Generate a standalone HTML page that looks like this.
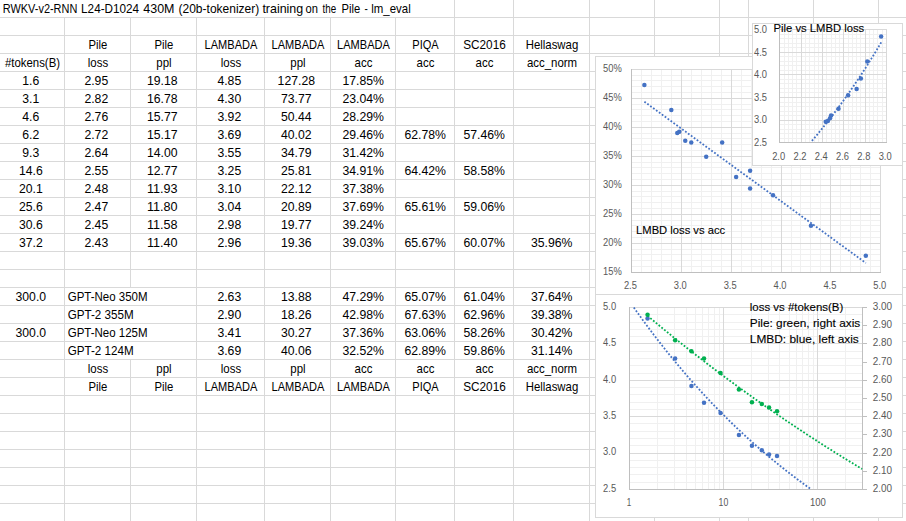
<!DOCTYPE html>
<html><head><meta charset="utf-8"><style>
html,body{margin:0;padding:0;background:#fff;overflow:hidden}
svg{display:block}
text{font-family:"Liberation Sans",sans-serif}
</style></head><body>
<svg width="906" height="521" viewBox="0 0 906 521">
<rect x="0" y="0" width="906" height="521" fill="#fff"/>
<rect x="64" y="17" width="1" height="504" fill="#d9d9d9"/>
<rect x="130" y="17" width="1" height="270" fill="#d9d9d9"/>
<rect x="130" y="359" width="1" height="162" fill="#d9d9d9"/>
<rect x="196" y="17" width="1" height="504" fill="#d9d9d9"/>
<rect x="264" y="17" width="1" height="504" fill="#d9d9d9"/>
<rect x="330" y="17" width="1" height="504" fill="#d9d9d9"/>
<rect x="395" y="17" width="1" height="504" fill="#d9d9d9"/>
<rect x="454" y="0" width="1" height="521" fill="#d9d9d9"/>
<rect x="513" y="0" width="1" height="521" fill="#d9d9d9"/>
<rect x="589" y="0" width="1" height="521" fill="#d9d9d9"/>
<rect x="654" y="0" width="1" height="521" fill="#d9d9d9"/>
<rect x="719" y="0" width="1" height="521" fill="#d9d9d9"/>
<rect x="748" y="0" width="1" height="521" fill="#d9d9d9"/>
<rect x="813" y="0" width="1" height="521" fill="#d9d9d9"/>
<rect x="878" y="0" width="1" height="521" fill="#d9d9d9"/>
<rect x="0" y="17" width="906" height="1" fill="#d9d9d9"/>
<rect x="0" y="35" width="906" height="1" fill="#d9d9d9"/>
<rect x="0" y="53" width="906" height="1" fill="#d9d9d9"/>
<rect x="0" y="71" width="906" height="1" fill="#d9d9d9"/>
<rect x="0" y="89" width="906" height="1" fill="#d9d9d9"/>
<rect x="0" y="107" width="906" height="1" fill="#d9d9d9"/>
<rect x="0" y="125" width="906" height="1" fill="#d9d9d9"/>
<rect x="0" y="143" width="906" height="1" fill="#d9d9d9"/>
<rect x="0" y="161" width="906" height="1" fill="#d9d9d9"/>
<rect x="0" y="179" width="906" height="1" fill="#d9d9d9"/>
<rect x="0" y="197" width="906" height="1" fill="#d9d9d9"/>
<rect x="0" y="215" width="906" height="1" fill="#d9d9d9"/>
<rect x="0" y="233" width="906" height="1" fill="#d9d9d9"/>
<rect x="0" y="251" width="906" height="1" fill="#d9d9d9"/>
<rect x="0" y="269" width="906" height="1" fill="#d9d9d9"/>
<rect x="0" y="287" width="906" height="1" fill="#d9d9d9"/>
<rect x="0" y="305" width="906" height="1" fill="#d9d9d9"/>
<rect x="0" y="323" width="906" height="1" fill="#d9d9d9"/>
<rect x="0" y="341" width="906" height="1" fill="#d9d9d9"/>
<rect x="0" y="359" width="906" height="1" fill="#d9d9d9"/>
<rect x="0" y="377" width="906" height="1" fill="#d9d9d9"/>
<rect x="0" y="395" width="906" height="1" fill="#d9d9d9"/>
<rect x="0" y="413" width="906" height="1" fill="#d9d9d9"/>
<rect x="0" y="431" width="906" height="1" fill="#d9d9d9"/>
<rect x="0" y="449" width="906" height="1" fill="#d9d9d9"/>
<rect x="0" y="467" width="906" height="1" fill="#d9d9d9"/>
<rect x="0" y="485" width="906" height="1" fill="#d9d9d9"/>
<rect x="0" y="503" width="906" height="1" fill="#d9d9d9"/>
<rect x="0" y="521" width="906" height="1" fill="#d9d9d9"/>
<text x="2.80" y="13.00" font-size="13" fill="#000" textLength="74.51" lengthAdjust="spacingAndGlyphs">RWKV-v2-RNN</text>
<text x="81.10" y="13.00" font-size="13" fill="#000" textLength="58.00" lengthAdjust="spacingAndGlyphs">L24-D1024</text>
<text x="143.30" y="13.00" font-size="13" fill="#000" textLength="31.21" lengthAdjust="spacingAndGlyphs">430M</text>
<text x="178.50" y="13.00" font-size="13" fill="#000" textLength="80.80" lengthAdjust="spacingAndGlyphs">(20b-tokenizer)</text>
<text x="262.40" y="13.00" font-size="13" fill="#000" textLength="40.80" lengthAdjust="spacingAndGlyphs">training</text>
<text x="305.60" y="13.00" font-size="13" fill="#000" textLength="12.40" lengthAdjust="spacingAndGlyphs">on</text>
<text x="322.60" y="13.00" font-size="13" fill="#000" textLength="13.60" lengthAdjust="spacingAndGlyphs">the</text>
<text x="341.50" y="13.00" font-size="13" fill="#000" textLength="18.69" lengthAdjust="spacingAndGlyphs">Pile</text>
<text x="364.40" y="13.00" font-size="13" fill="#000" textLength="3.30" lengthAdjust="spacingAndGlyphs">-</text>
<text x="371.30" y="13.00" font-size="13" fill="#000" textLength="39.40" lengthAdjust="spacingAndGlyphs">lm_eval</text>
<text x="98.00" y="49.00" font-size="13" text-anchor="middle" fill="#000" textLength="18.82" lengthAdjust="spacingAndGlyphs">Pile</text>
<text x="164.00" y="49.00" font-size="13" text-anchor="middle" fill="#000" textLength="18.82" lengthAdjust="spacingAndGlyphs">Pile</text>
<text x="231.00" y="49.00" font-size="13" text-anchor="middle" fill="#000" textLength="52.81" lengthAdjust="spacingAndGlyphs">LAMBADA</text>
<text x="298.00" y="49.00" font-size="13" text-anchor="middle" fill="#000" textLength="52.81" lengthAdjust="spacingAndGlyphs">LAMBADA</text>
<text x="363.50" y="49.00" font-size="13" text-anchor="middle" fill="#000" textLength="52.81" lengthAdjust="spacingAndGlyphs">LAMBADA</text>
<text x="425.50" y="49.00" font-size="13" text-anchor="middle" fill="#000" textLength="26.41" lengthAdjust="spacingAndGlyphs">PIQA</text>
<text x="484.50" y="49.00" font-size="13" text-anchor="middle" fill="#000" textLength="42.54" lengthAdjust="spacingAndGlyphs">SC2016</text>
<text x="552.00" y="49.00" font-size="13" text-anchor="middle" fill="#000" textLength="52.49" lengthAdjust="spacingAndGlyphs">Hellaswag</text>
<text x="32.50" y="67.00" font-size="13" text-anchor="middle" fill="#000" textLength="55.06" lengthAdjust="spacingAndGlyphs">#tokens(B)</text>
<text x="98.00" y="67.00" font-size="13" text-anchor="middle" fill="#000" textLength="20.34" lengthAdjust="spacingAndGlyphs">loss</text>
<text x="164.00" y="67.00" font-size="13" text-anchor="middle" fill="#000" textLength="15.27" lengthAdjust="spacingAndGlyphs">ppl</text>
<text x="231.00" y="67.00" font-size="13" text-anchor="middle" fill="#000" textLength="20.34" lengthAdjust="spacingAndGlyphs">loss</text>
<text x="298.00" y="67.00" font-size="13" text-anchor="middle" fill="#000" textLength="15.27" lengthAdjust="spacingAndGlyphs">ppl</text>
<text x="363.50" y="67.00" font-size="13" text-anchor="middle" fill="#000" textLength="17.80" lengthAdjust="spacingAndGlyphs">acc</text>
<text x="425.50" y="67.00" font-size="13" text-anchor="middle" fill="#000" textLength="17.80" lengthAdjust="spacingAndGlyphs">acc</text>
<text x="484.50" y="67.00" font-size="13" text-anchor="middle" fill="#000" textLength="17.80" lengthAdjust="spacingAndGlyphs">acc</text>
<text x="552.00" y="67.00" font-size="13" text-anchor="middle" fill="#000" textLength="50.23" lengthAdjust="spacingAndGlyphs">acc_norm</text>
<text x="30.80" y="85.00" font-size="13" text-anchor="middle" fill="#000" textLength="16.99" lengthAdjust="spacingAndGlyphs">1.6</text>
<text x="96.30" y="85.00" font-size="13" text-anchor="middle" fill="#000" textLength="23.78" lengthAdjust="spacingAndGlyphs">2.95</text>
<text x="162.30" y="85.00" font-size="13" text-anchor="middle" fill="#000" textLength="30.58" lengthAdjust="spacingAndGlyphs">19.18</text>
<text x="229.30" y="85.00" font-size="13" text-anchor="middle" fill="#000" textLength="23.78" lengthAdjust="spacingAndGlyphs">4.85</text>
<text x="296.30" y="85.00" font-size="13" text-anchor="middle" fill="#000" textLength="37.38" lengthAdjust="spacingAndGlyphs">127.28</text>
<text x="363.20" y="85.00" font-size="13" text-anchor="middle" fill="#000" textLength="41.56" lengthAdjust="spacingAndGlyphs">17.85%</text>
<text x="30.80" y="103.00" font-size="13" text-anchor="middle" fill="#000" textLength="16.99" lengthAdjust="spacingAndGlyphs">3.1</text>
<text x="96.30" y="103.00" font-size="13" text-anchor="middle" fill="#000" textLength="23.78" lengthAdjust="spacingAndGlyphs">2.82</text>
<text x="162.30" y="103.00" font-size="13" text-anchor="middle" fill="#000" textLength="30.58" lengthAdjust="spacingAndGlyphs">16.78</text>
<text x="229.30" y="103.00" font-size="13" text-anchor="middle" fill="#000" textLength="23.78" lengthAdjust="spacingAndGlyphs">4.30</text>
<text x="296.30" y="103.00" font-size="13" text-anchor="middle" fill="#000" textLength="30.58" lengthAdjust="spacingAndGlyphs">73.77</text>
<text x="363.20" y="103.00" font-size="13" text-anchor="middle" fill="#000" textLength="41.56" lengthAdjust="spacingAndGlyphs">23.04%</text>
<text x="30.80" y="121.00" font-size="13" text-anchor="middle" fill="#000" textLength="16.99" lengthAdjust="spacingAndGlyphs">4.6</text>
<text x="96.30" y="121.00" font-size="13" text-anchor="middle" fill="#000" textLength="23.78" lengthAdjust="spacingAndGlyphs">2.76</text>
<text x="162.30" y="121.00" font-size="13" text-anchor="middle" fill="#000" textLength="30.58" lengthAdjust="spacingAndGlyphs">15.77</text>
<text x="229.30" y="121.00" font-size="13" text-anchor="middle" fill="#000" textLength="23.78" lengthAdjust="spacingAndGlyphs">3.92</text>
<text x="296.30" y="121.00" font-size="13" text-anchor="middle" fill="#000" textLength="30.58" lengthAdjust="spacingAndGlyphs">50.44</text>
<text x="363.20" y="121.00" font-size="13" text-anchor="middle" fill="#000" textLength="41.56" lengthAdjust="spacingAndGlyphs">28.29%</text>
<text x="30.80" y="139.00" font-size="13" text-anchor="middle" fill="#000" textLength="16.99" lengthAdjust="spacingAndGlyphs">6.2</text>
<text x="96.30" y="139.00" font-size="13" text-anchor="middle" fill="#000" textLength="23.78" lengthAdjust="spacingAndGlyphs">2.72</text>
<text x="162.30" y="139.00" font-size="13" text-anchor="middle" fill="#000" textLength="30.58" lengthAdjust="spacingAndGlyphs">15.17</text>
<text x="229.30" y="139.00" font-size="13" text-anchor="middle" fill="#000" textLength="23.78" lengthAdjust="spacingAndGlyphs">3.69</text>
<text x="296.30" y="139.00" font-size="13" text-anchor="middle" fill="#000" textLength="30.58" lengthAdjust="spacingAndGlyphs">40.02</text>
<text x="363.20" y="139.00" font-size="13" text-anchor="middle" fill="#000" textLength="41.56" lengthAdjust="spacingAndGlyphs">29.46%</text>
<text x="425.20" y="139.00" font-size="13" text-anchor="middle" fill="#000" textLength="41.56" lengthAdjust="spacingAndGlyphs">62.78%</text>
<text x="484.20" y="139.00" font-size="13" text-anchor="middle" fill="#000" textLength="41.56" lengthAdjust="spacingAndGlyphs">57.46%</text>
<text x="30.80" y="157.00" font-size="13" text-anchor="middle" fill="#000" textLength="16.99" lengthAdjust="spacingAndGlyphs">9.3</text>
<text x="96.30" y="157.00" font-size="13" text-anchor="middle" fill="#000" textLength="23.78" lengthAdjust="spacingAndGlyphs">2.64</text>
<text x="162.30" y="157.00" font-size="13" text-anchor="middle" fill="#000" textLength="30.58" lengthAdjust="spacingAndGlyphs">14.00</text>
<text x="229.30" y="157.00" font-size="13" text-anchor="middle" fill="#000" textLength="23.78" lengthAdjust="spacingAndGlyphs">3.55</text>
<text x="296.30" y="157.00" font-size="13" text-anchor="middle" fill="#000" textLength="30.58" lengthAdjust="spacingAndGlyphs">34.79</text>
<text x="363.20" y="157.00" font-size="13" text-anchor="middle" fill="#000" textLength="41.56" lengthAdjust="spacingAndGlyphs">31.42%</text>
<text x="30.80" y="175.00" font-size="13" text-anchor="middle" fill="#000" textLength="23.78" lengthAdjust="spacingAndGlyphs">14.6</text>
<text x="96.30" y="175.00" font-size="13" text-anchor="middle" fill="#000" textLength="23.78" lengthAdjust="spacingAndGlyphs">2.55</text>
<text x="162.30" y="175.00" font-size="13" text-anchor="middle" fill="#000" textLength="30.58" lengthAdjust="spacingAndGlyphs">12.77</text>
<text x="229.30" y="175.00" font-size="13" text-anchor="middle" fill="#000" textLength="23.78" lengthAdjust="spacingAndGlyphs">3.25</text>
<text x="296.30" y="175.00" font-size="13" text-anchor="middle" fill="#000" textLength="30.58" lengthAdjust="spacingAndGlyphs">25.81</text>
<text x="363.20" y="175.00" font-size="13" text-anchor="middle" fill="#000" textLength="41.56" lengthAdjust="spacingAndGlyphs">34.91%</text>
<text x="425.20" y="175.00" font-size="13" text-anchor="middle" fill="#000" textLength="41.56" lengthAdjust="spacingAndGlyphs">64.42%</text>
<text x="484.20" y="175.00" font-size="13" text-anchor="middle" fill="#000" textLength="41.56" lengthAdjust="spacingAndGlyphs">58.58%</text>
<text x="30.80" y="193.00" font-size="13" text-anchor="middle" fill="#000" textLength="23.78" lengthAdjust="spacingAndGlyphs">20.1</text>
<text x="96.30" y="193.00" font-size="13" text-anchor="middle" fill="#000" textLength="23.78" lengthAdjust="spacingAndGlyphs">2.48</text>
<text x="162.30" y="193.00" font-size="13" text-anchor="middle" fill="#000" textLength="30.58" lengthAdjust="spacingAndGlyphs">11.93</text>
<text x="229.30" y="193.00" font-size="13" text-anchor="middle" fill="#000" textLength="23.78" lengthAdjust="spacingAndGlyphs">3.10</text>
<text x="296.30" y="193.00" font-size="13" text-anchor="middle" fill="#000" textLength="30.58" lengthAdjust="spacingAndGlyphs">22.12</text>
<text x="363.20" y="193.00" font-size="13" text-anchor="middle" fill="#000" textLength="41.56" lengthAdjust="spacingAndGlyphs">37.38%</text>
<text x="30.80" y="211.00" font-size="13" text-anchor="middle" fill="#000" textLength="23.78" lengthAdjust="spacingAndGlyphs">25.6</text>
<text x="96.30" y="211.00" font-size="13" text-anchor="middle" fill="#000" textLength="23.78" lengthAdjust="spacingAndGlyphs">2.47</text>
<text x="162.30" y="211.00" font-size="13" text-anchor="middle" fill="#000" textLength="30.58" lengthAdjust="spacingAndGlyphs">11.80</text>
<text x="229.30" y="211.00" font-size="13" text-anchor="middle" fill="#000" textLength="23.78" lengthAdjust="spacingAndGlyphs">3.04</text>
<text x="296.30" y="211.00" font-size="13" text-anchor="middle" fill="#000" textLength="30.58" lengthAdjust="spacingAndGlyphs">20.89</text>
<text x="363.20" y="211.00" font-size="13" text-anchor="middle" fill="#000" textLength="41.56" lengthAdjust="spacingAndGlyphs">37.69%</text>
<text x="425.20" y="211.00" font-size="13" text-anchor="middle" fill="#000" textLength="41.56" lengthAdjust="spacingAndGlyphs">65.61%</text>
<text x="484.20" y="211.00" font-size="13" text-anchor="middle" fill="#000" textLength="41.56" lengthAdjust="spacingAndGlyphs">59.06%</text>
<text x="30.80" y="229.00" font-size="13" text-anchor="middle" fill="#000" textLength="23.78" lengthAdjust="spacingAndGlyphs">30.6</text>
<text x="96.30" y="229.00" font-size="13" text-anchor="middle" fill="#000" textLength="23.78" lengthAdjust="spacingAndGlyphs">2.45</text>
<text x="162.30" y="229.00" font-size="13" text-anchor="middle" fill="#000" textLength="30.58" lengthAdjust="spacingAndGlyphs">11.58</text>
<text x="229.30" y="229.00" font-size="13" text-anchor="middle" fill="#000" textLength="23.78" lengthAdjust="spacingAndGlyphs">2.98</text>
<text x="296.30" y="229.00" font-size="13" text-anchor="middle" fill="#000" textLength="30.58" lengthAdjust="spacingAndGlyphs">19.77</text>
<text x="363.20" y="229.00" font-size="13" text-anchor="middle" fill="#000" textLength="41.56" lengthAdjust="spacingAndGlyphs">39.24%</text>
<text x="30.80" y="247.00" font-size="13" text-anchor="middle" fill="#000" textLength="23.78" lengthAdjust="spacingAndGlyphs">37.2</text>
<text x="96.30" y="247.00" font-size="13" text-anchor="middle" fill="#000" textLength="23.78" lengthAdjust="spacingAndGlyphs">2.43</text>
<text x="162.30" y="247.00" font-size="13" text-anchor="middle" fill="#000" textLength="30.58" lengthAdjust="spacingAndGlyphs">11.40</text>
<text x="229.30" y="247.00" font-size="13" text-anchor="middle" fill="#000" textLength="23.78" lengthAdjust="spacingAndGlyphs">2.96</text>
<text x="296.30" y="247.00" font-size="13" text-anchor="middle" fill="#000" textLength="30.58" lengthAdjust="spacingAndGlyphs">19.36</text>
<text x="363.20" y="247.00" font-size="13" text-anchor="middle" fill="#000" textLength="41.56" lengthAdjust="spacingAndGlyphs">39.03%</text>
<text x="425.20" y="247.00" font-size="13" text-anchor="middle" fill="#000" textLength="41.56" lengthAdjust="spacingAndGlyphs">65.67%</text>
<text x="484.20" y="247.00" font-size="13" text-anchor="middle" fill="#000" textLength="41.56" lengthAdjust="spacingAndGlyphs">60.07%</text>
<text x="551.70" y="247.00" font-size="13" text-anchor="middle" fill="#000" textLength="41.56" lengthAdjust="spacingAndGlyphs">35.96%</text>
<text x="30.80" y="301.00" font-size="13" text-anchor="middle" fill="#000" textLength="30.58" lengthAdjust="spacingAndGlyphs">300.0</text>
<text x="229.30" y="301.00" font-size="13" text-anchor="middle" fill="#000" textLength="23.78" lengthAdjust="spacingAndGlyphs">2.63</text>
<text x="296.30" y="301.00" font-size="13" text-anchor="middle" fill="#000" textLength="30.58" lengthAdjust="spacingAndGlyphs">13.88</text>
<text x="363.20" y="301.00" font-size="13" text-anchor="middle" fill="#000" textLength="41.56" lengthAdjust="spacingAndGlyphs">47.29%</text>
<text x="425.20" y="301.00" font-size="13" text-anchor="middle" fill="#000" textLength="41.56" lengthAdjust="spacingAndGlyphs">65.07%</text>
<text x="484.20" y="301.00" font-size="13" text-anchor="middle" fill="#000" textLength="41.56" lengthAdjust="spacingAndGlyphs">61.04%</text>
<text x="551.70" y="301.00" font-size="13" text-anchor="middle" fill="#000" textLength="41.56" lengthAdjust="spacingAndGlyphs">37.64%</text>
<text x="67.70" y="301.00" font-size="13" fill="#000" textLength="79.90" lengthAdjust="spacingAndGlyphs">GPT-Neo 350M</text>
<text x="229.30" y="319.00" font-size="13" text-anchor="middle" fill="#000" textLength="23.78" lengthAdjust="spacingAndGlyphs">2.90</text>
<text x="296.30" y="319.00" font-size="13" text-anchor="middle" fill="#000" textLength="30.58" lengthAdjust="spacingAndGlyphs">18.26</text>
<text x="363.20" y="319.00" font-size="13" text-anchor="middle" fill="#000" textLength="41.56" lengthAdjust="spacingAndGlyphs">42.98%</text>
<text x="425.20" y="319.00" font-size="13" text-anchor="middle" fill="#000" textLength="41.56" lengthAdjust="spacingAndGlyphs">67.63%</text>
<text x="484.20" y="319.00" font-size="13" text-anchor="middle" fill="#000" textLength="41.56" lengthAdjust="spacingAndGlyphs">62.96%</text>
<text x="551.70" y="319.00" font-size="13" text-anchor="middle" fill="#000" textLength="41.56" lengthAdjust="spacingAndGlyphs">39.38%</text>
<text x="67.70" y="319.00" font-size="13" fill="#000" textLength="66.00" lengthAdjust="spacingAndGlyphs">GPT-2 355M</text>
<text x="30.80" y="337.00" font-size="13" text-anchor="middle" fill="#000" textLength="30.58" lengthAdjust="spacingAndGlyphs">300.0</text>
<text x="229.30" y="337.00" font-size="13" text-anchor="middle" fill="#000" textLength="23.78" lengthAdjust="spacingAndGlyphs">3.41</text>
<text x="296.30" y="337.00" font-size="13" text-anchor="middle" fill="#000" textLength="30.58" lengthAdjust="spacingAndGlyphs">30.27</text>
<text x="363.20" y="337.00" font-size="13" text-anchor="middle" fill="#000" textLength="41.56" lengthAdjust="spacingAndGlyphs">37.36%</text>
<text x="425.20" y="337.00" font-size="13" text-anchor="middle" fill="#000" textLength="41.56" lengthAdjust="spacingAndGlyphs">63.06%</text>
<text x="484.20" y="337.00" font-size="13" text-anchor="middle" fill="#000" textLength="41.56" lengthAdjust="spacingAndGlyphs">58.26%</text>
<text x="551.70" y="337.00" font-size="13" text-anchor="middle" fill="#000" textLength="41.56" lengthAdjust="spacingAndGlyphs">30.42%</text>
<text x="67.70" y="337.00" font-size="13" fill="#000" textLength="79.90" lengthAdjust="spacingAndGlyphs">GPT-Neo 125M</text>
<text x="229.30" y="355.00" font-size="13" text-anchor="middle" fill="#000" textLength="23.78" lengthAdjust="spacingAndGlyphs">3.69</text>
<text x="296.30" y="355.00" font-size="13" text-anchor="middle" fill="#000" textLength="30.58" lengthAdjust="spacingAndGlyphs">40.06</text>
<text x="363.20" y="355.00" font-size="13" text-anchor="middle" fill="#000" textLength="41.56" lengthAdjust="spacingAndGlyphs">32.52%</text>
<text x="425.20" y="355.00" font-size="13" text-anchor="middle" fill="#000" textLength="41.56" lengthAdjust="spacingAndGlyphs">62.89%</text>
<text x="484.20" y="355.00" font-size="13" text-anchor="middle" fill="#000" textLength="41.56" lengthAdjust="spacingAndGlyphs">59.86%</text>
<text x="551.70" y="355.00" font-size="13" text-anchor="middle" fill="#000" textLength="41.56" lengthAdjust="spacingAndGlyphs">31.14%</text>
<text x="67.70" y="355.00" font-size="13" fill="#000" textLength="66.00" lengthAdjust="spacingAndGlyphs">GPT-2 124M</text>
<text x="98.00" y="373.00" font-size="13" text-anchor="middle" fill="#000" textLength="20.34" lengthAdjust="spacingAndGlyphs">loss</text>
<text x="164.00" y="373.00" font-size="13" text-anchor="middle" fill="#000" textLength="15.27" lengthAdjust="spacingAndGlyphs">ppl</text>
<text x="231.00" y="373.00" font-size="13" text-anchor="middle" fill="#000" textLength="20.34" lengthAdjust="spacingAndGlyphs">loss</text>
<text x="298.00" y="373.00" font-size="13" text-anchor="middle" fill="#000" textLength="15.27" lengthAdjust="spacingAndGlyphs">ppl</text>
<text x="363.50" y="373.00" font-size="13" text-anchor="middle" fill="#000" textLength="17.80" lengthAdjust="spacingAndGlyphs">acc</text>
<text x="425.50" y="373.00" font-size="13" text-anchor="middle" fill="#000" textLength="17.80" lengthAdjust="spacingAndGlyphs">acc</text>
<text x="484.50" y="373.00" font-size="13" text-anchor="middle" fill="#000" textLength="17.80" lengthAdjust="spacingAndGlyphs">acc</text>
<text x="552.00" y="373.00" font-size="13" text-anchor="middle" fill="#000" textLength="50.23" lengthAdjust="spacingAndGlyphs">acc_norm</text>
<text x="98.00" y="391.00" font-size="13" text-anchor="middle" fill="#000" textLength="18.82" lengthAdjust="spacingAndGlyphs">Pile</text>
<text x="164.00" y="391.00" font-size="13" text-anchor="middle" fill="#000" textLength="18.82" lengthAdjust="spacingAndGlyphs">Pile</text>
<text x="231.00" y="391.00" font-size="13" text-anchor="middle" fill="#000" textLength="52.81" lengthAdjust="spacingAndGlyphs">LAMBADA</text>
<text x="298.00" y="391.00" font-size="13" text-anchor="middle" fill="#000" textLength="52.81" lengthAdjust="spacingAndGlyphs">LAMBADA</text>
<text x="363.50" y="391.00" font-size="13" text-anchor="middle" fill="#000" textLength="52.81" lengthAdjust="spacingAndGlyphs">LAMBADA</text>
<text x="425.50" y="391.00" font-size="13" text-anchor="middle" fill="#000" textLength="26.41" lengthAdjust="spacingAndGlyphs">PIQA</text>
<text x="484.50" y="391.00" font-size="13" text-anchor="middle" fill="#000" textLength="42.54" lengthAdjust="spacingAndGlyphs">SC2016</text>
<text x="552.00" y="391.00" font-size="13" text-anchor="middle" fill="#000" textLength="52.49" lengthAdjust="spacingAndGlyphs">Hellaswag</text>
<rect x="595.5" y="56.5" width="307" height="238" fill="#fff" stroke="#d9d9d9" stroke-width="1"/>
<rect x="641" y="69" width="1" height="204" fill="#f0f0f0"/>
<rect x="651" y="69" width="1" height="204" fill="#f0f0f0"/>
<rect x="661" y="69" width="1" height="204" fill="#f0f0f0"/>
<rect x="671" y="69" width="1" height="204" fill="#f0f0f0"/>
<rect x="691" y="69" width="1" height="204" fill="#f0f0f0"/>
<rect x="701" y="69" width="1" height="204" fill="#f0f0f0"/>
<rect x="711" y="69" width="1" height="204" fill="#f0f0f0"/>
<rect x="721" y="69" width="1" height="204" fill="#f0f0f0"/>
<rect x="741" y="69" width="1" height="204" fill="#f0f0f0"/>
<rect x="751" y="69" width="1" height="204" fill="#f0f0f0"/>
<rect x="761" y="69" width="1" height="204" fill="#f0f0f0"/>
<rect x="771" y="69" width="1" height="204" fill="#f0f0f0"/>
<rect x="791" y="69" width="1" height="204" fill="#f0f0f0"/>
<rect x="800" y="69" width="1" height="204" fill="#f0f0f0"/>
<rect x="810" y="69" width="1" height="204" fill="#f0f0f0"/>
<rect x="820" y="69" width="1" height="204" fill="#f0f0f0"/>
<rect x="840" y="69" width="1" height="204" fill="#f0f0f0"/>
<rect x="850" y="69" width="1" height="204" fill="#f0f0f0"/>
<rect x="860" y="69" width="1" height="204" fill="#f0f0f0"/>
<rect x="870" y="69" width="1" height="204" fill="#f0f0f0"/>
<rect x="631" y="75" width="250" height="1" fill="#f0f0f0"/>
<rect x="631" y="80" width="250" height="1" fill="#f0f0f0"/>
<rect x="631" y="86" width="250" height="1" fill="#f0f0f0"/>
<rect x="631" y="92" width="250" height="1" fill="#f0f0f0"/>
<rect x="631" y="104" width="250" height="1" fill="#f0f0f0"/>
<rect x="631" y="109" width="250" height="1" fill="#f0f0f0"/>
<rect x="631" y="115" width="250" height="1" fill="#f0f0f0"/>
<rect x="631" y="121" width="250" height="1" fill="#f0f0f0"/>
<rect x="631" y="133" width="250" height="1" fill="#f0f0f0"/>
<rect x="631" y="138" width="250" height="1" fill="#f0f0f0"/>
<rect x="631" y="144" width="250" height="1" fill="#f0f0f0"/>
<rect x="631" y="150" width="250" height="1" fill="#f0f0f0"/>
<rect x="631" y="162" width="250" height="1" fill="#f0f0f0"/>
<rect x="631" y="167" width="250" height="1" fill="#f0f0f0"/>
<rect x="631" y="173" width="250" height="1" fill="#f0f0f0"/>
<rect x="631" y="179" width="250" height="1" fill="#f0f0f0"/>
<rect x="631" y="191" width="250" height="1" fill="#f0f0f0"/>
<rect x="631" y="196" width="250" height="1" fill="#f0f0f0"/>
<rect x="631" y="202" width="250" height="1" fill="#f0f0f0"/>
<rect x="631" y="208" width="250" height="1" fill="#f0f0f0"/>
<rect x="631" y="220" width="250" height="1" fill="#f0f0f0"/>
<rect x="631" y="225" width="250" height="1" fill="#f0f0f0"/>
<rect x="631" y="231" width="250" height="1" fill="#f0f0f0"/>
<rect x="631" y="237" width="250" height="1" fill="#f0f0f0"/>
<rect x="631" y="249" width="250" height="1" fill="#f0f0f0"/>
<rect x="631" y="254" width="250" height="1" fill="#f0f0f0"/>
<rect x="631" y="260" width="250" height="1" fill="#f0f0f0"/>
<rect x="631" y="266" width="250" height="1" fill="#f0f0f0"/>
<rect x="631" y="69" width="1" height="204" fill="#d9d9d9"/>
<text x="623.90" y="288.90" font-size="10" fill="#595959" textLength="13.00" lengthAdjust="spacingAndGlyphs">2.5</text>
<rect x="681" y="69" width="1" height="204" fill="#d9d9d9"/>
<text x="673.77" y="288.90" font-size="10" fill="#595959" textLength="13.00" lengthAdjust="spacingAndGlyphs">3.0</text>
<rect x="731" y="69" width="1" height="204" fill="#d9d9d9"/>
<text x="723.65" y="288.90" font-size="10" fill="#595959" textLength="13.00" lengthAdjust="spacingAndGlyphs">3.5</text>
<rect x="781" y="69" width="1" height="204" fill="#d9d9d9"/>
<text x="773.52" y="288.90" font-size="10" fill="#595959" textLength="13.00" lengthAdjust="spacingAndGlyphs">4.0</text>
<rect x="830" y="69" width="1" height="204" fill="#d9d9d9"/>
<text x="823.40" y="288.90" font-size="10" fill="#595959" textLength="13.00" lengthAdjust="spacingAndGlyphs">4.5</text>
<rect x="880" y="69" width="1" height="204" fill="#d9d9d9"/>
<text x="873.27" y="288.90" font-size="10" fill="#595959" textLength="13.00" lengthAdjust="spacingAndGlyphs">5.0</text>
<rect x="631" y="69" width="250" height="1" fill="#d9d9d9"/>
<text x="603.10" y="72.00" font-size="10" fill="#595959" textLength="18.70" lengthAdjust="spacingAndGlyphs">50%</text>
<rect x="631" y="98" width="250" height="1" fill="#d9d9d9"/>
<text x="603.10" y="101.00" font-size="10" fill="#595959" textLength="18.70" lengthAdjust="spacingAndGlyphs">45%</text>
<rect x="631" y="127" width="250" height="1" fill="#d9d9d9"/>
<text x="603.10" y="130.00" font-size="10" fill="#595959" textLength="18.70" lengthAdjust="spacingAndGlyphs">40%</text>
<rect x="631" y="156" width="250" height="1" fill="#d9d9d9"/>
<text x="603.10" y="159.00" font-size="10" fill="#595959" textLength="18.70" lengthAdjust="spacingAndGlyphs">35%</text>
<rect x="631" y="185" width="250" height="1" fill="#d9d9d9"/>
<text x="603.10" y="188.00" font-size="10" fill="#595959" textLength="18.70" lengthAdjust="spacingAndGlyphs">30%</text>
<rect x="631" y="214" width="250" height="1" fill="#d9d9d9"/>
<text x="603.10" y="217.00" font-size="10" fill="#595959" textLength="18.70" lengthAdjust="spacingAndGlyphs">25%</text>
<rect x="631" y="243" width="250" height="1" fill="#d9d9d9"/>
<text x="603.10" y="246.00" font-size="10" fill="#595959" textLength="18.70" lengthAdjust="spacingAndGlyphs">20%</text>
<rect x="631" y="272" width="250" height="1" fill="#d9d9d9"/>
<text x="603.10" y="275.00" font-size="10" fill="#595959" textLength="18.70" lengthAdjust="spacingAndGlyphs">15%</text>
<rect x="631" y="69" width="1" height="204" fill="#bfbfbf"/>
<rect x="631" y="272" width="250" height="1" fill="#bfbfbf"/>
<text x="636.10" y="234.20" font-size="11.2" fill="#000" stroke="#000" stroke-width="0.12" textLength="89.00" lengthAdjust="spacingAndGlyphs">LMBD loss vs acc</text>
<path d="M644.37,101.66 L865.81,262.95" fill="none" stroke="#4472c4" stroke-width="1.8" stroke-dasharray="1.8 1.8"/>
<circle cx="865.81" cy="255.77" r="2.25" fill="#4472c4"/>
<circle cx="810.95" cy="225.67" r="2.25" fill="#4472c4"/>
<circle cx="773.04" cy="195.22" r="2.25" fill="#4472c4"/>
<circle cx="750.10" cy="188.43" r="2.25" fill="#4472c4"/>
<circle cx="736.14" cy="177.06" r="2.25" fill="#4472c4"/>
<circle cx="706.21" cy="156.82" r="2.25" fill="#4472c4"/>
<circle cx="691.25" cy="142.50" r="2.25" fill="#4472c4"/>
<circle cx="685.26" cy="140.70" r="2.25" fill="#4472c4"/>
<circle cx="679.28" cy="131.71" r="2.25" fill="#4472c4"/>
<circle cx="677.28" cy="132.93" r="2.25" fill="#4472c4"/>
<circle cx="644.37" cy="85.02" r="2.25" fill="#4472c4"/>
<circle cx="671.30" cy="110.02" r="2.25" fill="#4472c4"/>
<circle cx="722.17" cy="142.61" r="2.25" fill="#4472c4"/>
<circle cx="750.10" cy="170.68" r="2.25" fill="#4472c4"/>
<rect x="752.5" y="23.5" width="150" height="142" fill="#fff" stroke="#d9d9d9" stroke-width="1"/>
<rect x="784" y="29" width="1" height="114" fill="#f0f0f0"/>
<rect x="788" y="29" width="1" height="114" fill="#f0f0f0"/>
<rect x="792" y="29" width="1" height="114" fill="#f0f0f0"/>
<rect x="796" y="29" width="1" height="114" fill="#f0f0f0"/>
<rect x="805" y="29" width="1" height="114" fill="#f0f0f0"/>
<rect x="809" y="29" width="1" height="114" fill="#f0f0f0"/>
<rect x="814" y="29" width="1" height="114" fill="#f0f0f0"/>
<rect x="818" y="29" width="1" height="114" fill="#f0f0f0"/>
<rect x="826" y="29" width="1" height="114" fill="#f0f0f0"/>
<rect x="831" y="29" width="1" height="114" fill="#f0f0f0"/>
<rect x="835" y="29" width="1" height="114" fill="#f0f0f0"/>
<rect x="839" y="29" width="1" height="114" fill="#f0f0f0"/>
<rect x="848" y="29" width="1" height="114" fill="#f0f0f0"/>
<rect x="852" y="29" width="1" height="114" fill="#f0f0f0"/>
<rect x="856" y="29" width="1" height="114" fill="#f0f0f0"/>
<rect x="860" y="29" width="1" height="114" fill="#f0f0f0"/>
<rect x="869" y="29" width="1" height="114" fill="#f0f0f0"/>
<rect x="873" y="29" width="1" height="114" fill="#f0f0f0"/>
<rect x="877" y="29" width="1" height="114" fill="#f0f0f0"/>
<rect x="882" y="29" width="1" height="114" fill="#f0f0f0"/>
<rect x="779" y="138" width="108" height="1" fill="#f0f0f0"/>
<rect x="779" y="133" width="108" height="1" fill="#f0f0f0"/>
<rect x="779" y="129" width="108" height="1" fill="#f0f0f0"/>
<rect x="779" y="124" width="108" height="1" fill="#f0f0f0"/>
<rect x="779" y="115" width="108" height="1" fill="#f0f0f0"/>
<rect x="779" y="111" width="108" height="1" fill="#f0f0f0"/>
<rect x="779" y="106" width="108" height="1" fill="#f0f0f0"/>
<rect x="779" y="102" width="108" height="1" fill="#f0f0f0"/>
<rect x="779" y="92" width="108" height="1" fill="#f0f0f0"/>
<rect x="779" y="88" width="108" height="1" fill="#f0f0f0"/>
<rect x="779" y="83" width="108" height="1" fill="#f0f0f0"/>
<rect x="779" y="79" width="108" height="1" fill="#f0f0f0"/>
<rect x="779" y="70" width="108" height="1" fill="#f0f0f0"/>
<rect x="779" y="65" width="108" height="1" fill="#f0f0f0"/>
<rect x="779" y="61" width="108" height="1" fill="#f0f0f0"/>
<rect x="779" y="56" width="108" height="1" fill="#f0f0f0"/>
<rect x="779" y="47" width="108" height="1" fill="#f0f0f0"/>
<rect x="779" y="43" width="108" height="1" fill="#f0f0f0"/>
<rect x="779" y="38" width="108" height="1" fill="#f0f0f0"/>
<rect x="779" y="34" width="108" height="1" fill="#f0f0f0"/>
<rect x="779" y="29" width="1" height="114" fill="#d9d9d9"/>
<text x="772.15" y="160.00" font-size="10" fill="#595959" textLength="13.00" lengthAdjust="spacingAndGlyphs">2.0</text>
<rect x="801" y="29" width="1" height="114" fill="#d9d9d9"/>
<text x="793.45" y="160.00" font-size="10" fill="#595959" textLength="13.00" lengthAdjust="spacingAndGlyphs">2.2</text>
<rect x="822" y="29" width="1" height="114" fill="#d9d9d9"/>
<text x="814.75" y="160.00" font-size="10" fill="#595959" textLength="13.00" lengthAdjust="spacingAndGlyphs">2.4</text>
<rect x="843" y="29" width="1" height="114" fill="#d9d9d9"/>
<text x="836.05" y="160.00" font-size="10" fill="#595959" textLength="13.00" lengthAdjust="spacingAndGlyphs">2.6</text>
<rect x="865" y="29" width="1" height="114" fill="#d9d9d9"/>
<text x="857.35" y="160.00" font-size="10" fill="#595959" textLength="13.00" lengthAdjust="spacingAndGlyphs">2.8</text>
<rect x="886" y="29" width="1" height="114" fill="#d9d9d9"/>
<text x="878.65" y="160.00" font-size="10" fill="#595959" textLength="13.00" lengthAdjust="spacingAndGlyphs">3.0</text>
<rect x="779" y="142" width="108" height="1" fill="#d9d9d9"/>
<text x="754.00" y="145.80" font-size="10" fill="#595959" textLength="13.00" lengthAdjust="spacingAndGlyphs">2.5</text>
<rect x="779" y="120" width="108" height="1" fill="#d9d9d9"/>
<text x="754.00" y="123.25" font-size="10" fill="#595959" textLength="13.00" lengthAdjust="spacingAndGlyphs">3.0</text>
<rect x="779" y="97" width="108" height="1" fill="#d9d9d9"/>
<text x="754.00" y="100.70" font-size="10" fill="#595959" textLength="13.00" lengthAdjust="spacingAndGlyphs">3.5</text>
<rect x="779" y="74" width="108" height="1" fill="#d9d9d9"/>
<text x="754.00" y="78.15" font-size="10" fill="#595959" textLength="13.00" lengthAdjust="spacingAndGlyphs">4.0</text>
<rect x="779" y="52" width="108" height="1" fill="#d9d9d9"/>
<text x="754.00" y="55.60" font-size="10" fill="#595959" textLength="13.00" lengthAdjust="spacingAndGlyphs">4.5</text>
<rect x="779" y="29" width="108" height="1" fill="#d9d9d9"/>
<text x="754.00" y="33.05" font-size="10" fill="#595959" textLength="13.00" lengthAdjust="spacingAndGlyphs">5.0</text>
<rect x="779" y="29" width="1" height="114" fill="#bfbfbf"/>
<rect x="779" y="142" width="108" height="1" fill="#bfbfbf"/>
<path d="M811.90,140.85 L812.97,139.60 L814.03,138.35 L815.09,137.09 L816.16,135.82 L817.22,134.55 L818.29,133.26 L819.35,131.97 L820.42,130.67 L821.48,129.36 L822.55,128.05 L823.61,126.72 L824.68,125.39 L825.74,124.05 L826.81,122.70 L827.87,121.34 L828.94,119.98 L830.00,118.60 L831.07,117.22 L832.13,115.83 L833.20,114.43 L834.26,113.02 L835.33,111.61 L836.39,110.18 L837.46,108.75 L838.52,107.31 L839.59,105.86 L840.65,104.40 L841.72,102.93 L842.78,101.46 L843.85,99.97 L844.91,98.48 L845.98,96.98 L847.04,95.47 L848.11,93.96 L849.17,92.43 L850.24,90.89 L851.30,89.35 L852.37,87.80 L853.43,86.24 L854.50,84.67 L855.56,83.09 L856.63,81.50 L857.69,79.91 L858.76,78.30 L859.82,76.69 L860.89,75.07 L861.95,73.44 L863.02,71.80 L864.08,70.15 L865.15,68.49 L866.21,66.83 L867.28,65.15 L868.34,63.47 L869.41,61.78 L870.47,60.08 L871.54,58.37 L872.60,56.65 L873.67,54.92 L874.73,53.18 L875.80,51.43 L876.86,49.68 L877.93,47.92 L878.99,46.14 L880.06,44.36 L881.12,42.57 L881.98,41.13" fill="none" stroke="#4472c4" stroke-width="1.8" stroke-dasharray="1.8 1.8"/>
<circle cx="881.13" cy="36.62" r="2.25" fill="#4472c4"/>
<circle cx="867.28" cy="61.42" r="2.25" fill="#4472c4"/>
<circle cx="860.89" cy="78.56" r="2.25" fill="#4472c4"/>
<circle cx="856.63" cy="88.93" r="2.25" fill="#4472c4"/>
<circle cx="848.11" cy="95.25" r="2.25" fill="#4472c4"/>
<circle cx="838.52" cy="108.77" r="2.25" fill="#4472c4"/>
<circle cx="831.07" cy="115.54" r="2.25" fill="#4472c4"/>
<circle cx="830.01" cy="118.25" r="2.25" fill="#4472c4"/>
<circle cx="827.88" cy="120.95" r="2.25" fill="#4472c4"/>
<circle cx="825.75" cy="121.85" r="2.25" fill="#4472c4"/>
<text x="773.60" y="31.90" font-size="11.2" fill="#000" stroke="#000" stroke-width="0.12" textLength="90.60" lengthAdjust="spacingAndGlyphs">Pile vs LMBD loss</text>
<rect x="595.5" y="294.5" width="307" height="223" fill="#fff" stroke="#d9d9d9" stroke-width="1"/>
<rect x="657" y="307" width="1" height="183" fill="#f0f0f0"/>
<rect x="674" y="307" width="1" height="183" fill="#f0f0f0"/>
<rect x="686" y="307" width="1" height="183" fill="#f0f0f0"/>
<rect x="695" y="307" width="1" height="183" fill="#f0f0f0"/>
<rect x="702" y="307" width="1" height="183" fill="#f0f0f0"/>
<rect x="708" y="307" width="1" height="183" fill="#f0f0f0"/>
<rect x="714" y="307" width="1" height="183" fill="#f0f0f0"/>
<rect x="719" y="307" width="1" height="183" fill="#f0f0f0"/>
<rect x="751" y="307" width="1" height="183" fill="#f0f0f0"/>
<rect x="768" y="307" width="1" height="183" fill="#f0f0f0"/>
<rect x="779" y="307" width="1" height="183" fill="#f0f0f0"/>
<rect x="789" y="307" width="1" height="183" fill="#f0f0f0"/>
<rect x="796" y="307" width="1" height="183" fill="#f0f0f0"/>
<rect x="802" y="307" width="1" height="183" fill="#f0f0f0"/>
<rect x="808" y="307" width="1" height="183" fill="#f0f0f0"/>
<rect x="813" y="307" width="1" height="183" fill="#f0f0f0"/>
<rect x="845" y="307" width="1" height="183" fill="#f0f0f0"/>
<rect x="862" y="307" width="1" height="183" fill="#f0f0f0"/>
<rect x="629" y="482" width="234" height="1" fill="#f0f0f0"/>
<rect x="629" y="474" width="234" height="1" fill="#f0f0f0"/>
<rect x="629" y="467" width="234" height="1" fill="#f0f0f0"/>
<rect x="629" y="460" width="234" height="1" fill="#f0f0f0"/>
<rect x="629" y="445" width="234" height="1" fill="#f0f0f0"/>
<rect x="629" y="438" width="234" height="1" fill="#f0f0f0"/>
<rect x="629" y="431" width="234" height="1" fill="#f0f0f0"/>
<rect x="629" y="423" width="234" height="1" fill="#f0f0f0"/>
<rect x="629" y="409" width="234" height="1" fill="#f0f0f0"/>
<rect x="629" y="402" width="234" height="1" fill="#f0f0f0"/>
<rect x="629" y="394" width="234" height="1" fill="#f0f0f0"/>
<rect x="629" y="387" width="234" height="1" fill="#f0f0f0"/>
<rect x="629" y="373" width="234" height="1" fill="#f0f0f0"/>
<rect x="629" y="365" width="234" height="1" fill="#f0f0f0"/>
<rect x="629" y="358" width="234" height="1" fill="#f0f0f0"/>
<rect x="629" y="351" width="234" height="1" fill="#f0f0f0"/>
<rect x="629" y="336" width="234" height="1" fill="#f0f0f0"/>
<rect x="629" y="329" width="234" height="1" fill="#f0f0f0"/>
<rect x="629" y="322" width="234" height="1" fill="#f0f0f0"/>
<rect x="629" y="314" width="234" height="1" fill="#f0f0f0"/>
<rect x="629" y="307" width="1" height="183" fill="#d9d9d9"/>
<rect x="723" y="307" width="1" height="183" fill="#d9d9d9"/>
<rect x="817" y="307" width="1" height="183" fill="#d9d9d9"/>
<rect x="629" y="489" width="234" height="1" fill="#d9d9d9"/>
<text x="603.10" y="491.80" font-size="10" fill="#595959" textLength="13.00" lengthAdjust="spacingAndGlyphs">2.5</text>
<rect x="629" y="453" width="234" height="1" fill="#d9d9d9"/>
<text x="603.10" y="455.40" font-size="10" fill="#595959" textLength="13.00" lengthAdjust="spacingAndGlyphs">3.0</text>
<rect x="629" y="416" width="234" height="1" fill="#d9d9d9"/>
<text x="603.10" y="419.00" font-size="10" fill="#595959" textLength="13.00" lengthAdjust="spacingAndGlyphs">3.5</text>
<rect x="629" y="380" width="234" height="1" fill="#d9d9d9"/>
<text x="603.10" y="382.60" font-size="10" fill="#595959" textLength="13.00" lengthAdjust="spacingAndGlyphs">4.0</text>
<rect x="629" y="343" width="234" height="1" fill="#d9d9d9"/>
<text x="603.10" y="346.20" font-size="10" fill="#595959" textLength="13.00" lengthAdjust="spacingAndGlyphs">4.5</text>
<rect x="629" y="307" width="234" height="1" fill="#d9d9d9"/>
<text x="603.10" y="309.80" font-size="10" fill="#595959" textLength="13.00" lengthAdjust="spacingAndGlyphs">5.0</text>
<text x="626.70" y="505.90" font-size="10" fill="#595959" textLength="4.50" lengthAdjust="spacingAndGlyphs">1</text>
<text x="718.55" y="505.90" font-size="10" fill="#595959" textLength="9.70" lengthAdjust="spacingAndGlyphs">10</text>
<text x="809.95" y="505.90" font-size="10" fill="#595959" textLength="15.90" lengthAdjust="spacingAndGlyphs">100</text>
<rect x="629" y="307" width="1" height="183" fill="#bfbfbf"/>
<rect x="629" y="489" width="234" height="1" fill="#bfbfbf"/>
<rect x="862" y="307" width="1" height="183" fill="#bfbfbf"/>
<rect x="862" y="489" width="5" height="1" fill="#bfbfbf"/>
<text x="872.80" y="492.00" font-size="10" fill="#595959" textLength="19.30" lengthAdjust="spacingAndGlyphs">2.00</text>
<rect x="862" y="471" width="5" height="1" fill="#bfbfbf"/>
<text x="872.80" y="473.80" font-size="10" fill="#595959" textLength="19.30" lengthAdjust="spacingAndGlyphs">2.10</text>
<rect x="862" y="453" width="5" height="1" fill="#bfbfbf"/>
<text x="872.80" y="455.60" font-size="10" fill="#595959" textLength="19.30" lengthAdjust="spacingAndGlyphs">2.20</text>
<rect x="862" y="434" width="5" height="1" fill="#bfbfbf"/>
<text x="872.80" y="437.40" font-size="10" fill="#595959" textLength="19.30" lengthAdjust="spacingAndGlyphs">2.30</text>
<rect x="862" y="416" width="5" height="1" fill="#bfbfbf"/>
<text x="872.80" y="419.20" font-size="10" fill="#595959" textLength="19.30" lengthAdjust="spacingAndGlyphs">2.40</text>
<rect x="862" y="398" width="5" height="1" fill="#bfbfbf"/>
<text x="872.80" y="401.00" font-size="10" fill="#595959" textLength="19.30" lengthAdjust="spacingAndGlyphs">2.50</text>
<rect x="862" y="380" width="5" height="1" fill="#bfbfbf"/>
<text x="872.80" y="382.80" font-size="10" fill="#595959" textLength="19.30" lengthAdjust="spacingAndGlyphs">2.60</text>
<rect x="862" y="362" width="5" height="1" fill="#bfbfbf"/>
<text x="872.80" y="364.60" font-size="10" fill="#595959" textLength="19.30" lengthAdjust="spacingAndGlyphs">2.70</text>
<rect x="862" y="343" width="5" height="1" fill="#bfbfbf"/>
<text x="872.80" y="346.40" font-size="10" fill="#595959" textLength="19.30" lengthAdjust="spacingAndGlyphs">2.80</text>
<rect x="862" y="325" width="5" height="1" fill="#bfbfbf"/>
<text x="872.80" y="328.20" font-size="10" fill="#595959" textLength="19.30" lengthAdjust="spacingAndGlyphs">2.90</text>
<rect x="862" y="307" width="5" height="1" fill="#bfbfbf"/>
<text x="872.80" y="310.00" font-size="10" fill="#595959" textLength="19.30" lengthAdjust="spacingAndGlyphs">3.00</text>
<path d="M647.55,315.82 L649.54,317.49 L651.53,319.15 L653.52,320.81 L655.50,322.46 L657.49,324.11 L659.48,325.75 L661.47,327.39 L663.45,329.02 L665.44,330.65 L667.43,332.27 L669.42,333.89 L671.40,335.50 L673.39,337.11 L675.38,338.71 L677.37,340.31 L679.35,341.90 L681.34,343.49 L683.33,345.07 L685.32,346.65 L687.30,348.22 L689.29,349.79 L691.28,351.35 L693.27,352.91 L695.25,354.46 L697.24,356.01 L699.23,357.55 L701.22,359.09 L703.20,360.62 L705.19,362.15 L707.18,363.68 L709.17,365.20 L711.15,366.71 L713.14,368.22 L715.13,369.73 L717.12,371.23 L719.11,372.72 L721.09,374.22 L723.08,375.70 L725.07,377.19 L727.06,378.66 L729.04,380.14 L731.03,381.60 L733.02,383.07 L735.01,384.53 L736.99,385.98 L738.98,387.43 L740.97,388.88 L742.96,390.32 L744.94,391.76 L746.93,393.19 L748.92,394.62 L750.91,396.04 L752.89,397.46 L754.88,398.88 L756.87,400.29 L758.86,401.69 L760.84,403.09 L762.83,404.49 L764.82,405.88 L766.81,407.27 L768.79,408.66 L770.78,410.04 L772.77,411.41 L774.76,412.78 L776.74,414.15 L778.73,415.52 L780.72,416.87 L782.71,418.23 L784.69,419.58 L786.68,420.93 L788.67,422.27 L790.66,423.61 L792.64,424.94 L794.63,426.27 L796.62,427.59 L798.61,428.92 L800.59,430.23 L802.58,431.55 L804.57,432.85 L806.56,434.16 L808.55,435.46 L810.53,436.76 L812.52,438.05 L814.51,439.34 L816.50,440.62 L818.48,441.91 L820.47,443.18 L822.46,444.46 L824.45,445.72 L826.43,446.99 L828.42,448.25 L830.41,449.51 L832.40,450.76 L834.38,452.01 L836.37,453.26 L838.36,454.50 L840.35,455.74 L842.33,456.97 L844.32,458.20 L846.31,459.43 L848.30,460.65 L850.28,461.87 L852.27,463.08 L854.26,464.29 L856.25,465.50 L858.23,466.71 L860.22,467.91 L862.05,469.01" fill="none" stroke="#00b050" stroke-width="1.8" stroke-dasharray="1.8 1.8"/>
<path d="M633.82,307.50 L635.81,310.31 L637.80,313.10 L639.78,315.87 L641.77,318.62 L643.76,321.35 L645.75,324.06 L647.74,326.74 L649.72,329.40 L651.71,332.05 L653.70,334.67 L655.69,337.27 L657.67,339.86 L659.66,342.42 L661.65,344.96 L663.64,347.49 L665.62,349.99 L667.61,352.48 L669.60,354.94 L671.59,357.39 L673.57,359.81 L675.56,362.22 L677.55,364.61 L679.54,366.98 L681.52,369.34 L683.51,371.67 L685.50,373.99 L687.49,376.29 L689.47,378.57 L691.46,380.83 L693.45,383.08 L695.44,385.31 L697.42,387.52 L699.41,389.72 L701.40,391.89 L703.39,394.05 L705.37,396.20 L707.36,398.33 L709.35,400.44 L711.34,402.53 L713.32,404.61 L715.31,406.67 L717.30,408.72 L719.29,410.75 L721.27,412.77 L723.26,414.76 L725.25,416.75 L727.24,418.72 L729.22,420.67 L731.21,422.61 L733.20,424.53 L735.19,426.44 L737.18,428.33 L739.16,430.21 L741.15,432.08 L743.14,433.93 L745.13,435.76 L747.11,437.59 L749.10,439.39 L751.09,441.19 L753.08,442.97 L755.06,444.73 L757.05,446.49 L759.04,448.23 L761.03,449.95 L763.01,451.66 L765.00,453.36 L766.99,455.05 L768.98,456.72 L770.96,458.38 L772.95,460.03 L774.94,461.66 L776.93,463.28 L778.91,464.89 L780.90,466.49 L782.89,468.07 L784.88,469.65 L786.86,471.20 L788.85,472.75 L790.84,474.29 L792.83,475.81 L794.81,477.33 L796.80,478.83 L798.79,480.31 L800.78,481.79 L802.76,483.26 L804.75,484.71 L806.74,486.16 L808.73,487.59 L810.71,489.01 L811.40,489.50" fill="none" stroke="#4472c4" stroke-width="1.8" stroke-dasharray="1.8 1.8"/>
<circle cx="647.55" cy="318.42" r="2.25" fill="#4472c4"/>
<circle cx="675.13" cy="358.46" r="2.25" fill="#4472c4"/>
<circle cx="691.42" cy="386.12" r="2.25" fill="#4472c4"/>
<circle cx="704.03" cy="402.87" r="2.25" fill="#4472c4"/>
<circle cx="720.54" cy="413.06" r="2.25" fill="#4472c4"/>
<circle cx="738.92" cy="434.90" r="2.25" fill="#4472c4"/>
<circle cx="751.94" cy="445.82" r="2.25" fill="#4472c4"/>
<circle cx="761.79" cy="450.19" r="2.25" fill="#4472c4"/>
<circle cx="769.06" cy="454.56" r="2.25" fill="#4472c4"/>
<circle cx="777.02" cy="456.01" r="2.25" fill="#4472c4"/>
<circle cx="647.55" cy="314.78" r="2.25" fill="#00b050"/>
<circle cx="675.13" cy="340.26" r="2.25" fill="#00b050"/>
<circle cx="691.42" cy="351.18" r="2.25" fill="#00b050"/>
<circle cx="704.03" cy="358.46" r="2.25" fill="#00b050"/>
<circle cx="720.54" cy="373.02" r="2.25" fill="#00b050"/>
<circle cx="738.92" cy="389.40" r="2.25" fill="#00b050"/>
<circle cx="751.94" cy="402.14" r="2.25" fill="#00b050"/>
<circle cx="761.79" cy="403.96" r="2.25" fill="#00b050"/>
<circle cx="769.06" cy="407.60" r="2.25" fill="#00b050"/>
<circle cx="777.02" cy="411.24" r="2.25" fill="#00b050"/>
<text x="749.80" y="310.50" font-size="11.2" fill="#000" stroke="#000" stroke-width="0.12" textLength="93.51" lengthAdjust="spacingAndGlyphs">loss vs #tokens(B)</text>
<text x="749.80" y="326.50" font-size="11.2" fill="#000" stroke="#000" stroke-width="0.12" textLength="110.40" lengthAdjust="spacingAndGlyphs">Pile: green, right axis</text>
<text x="749.80" y="342.50" font-size="11.2" fill="#000" stroke="#000" stroke-width="0.12" textLength="109.01" lengthAdjust="spacingAndGlyphs">LMBD: blue, left axis</text>
</svg>
</body></html>
